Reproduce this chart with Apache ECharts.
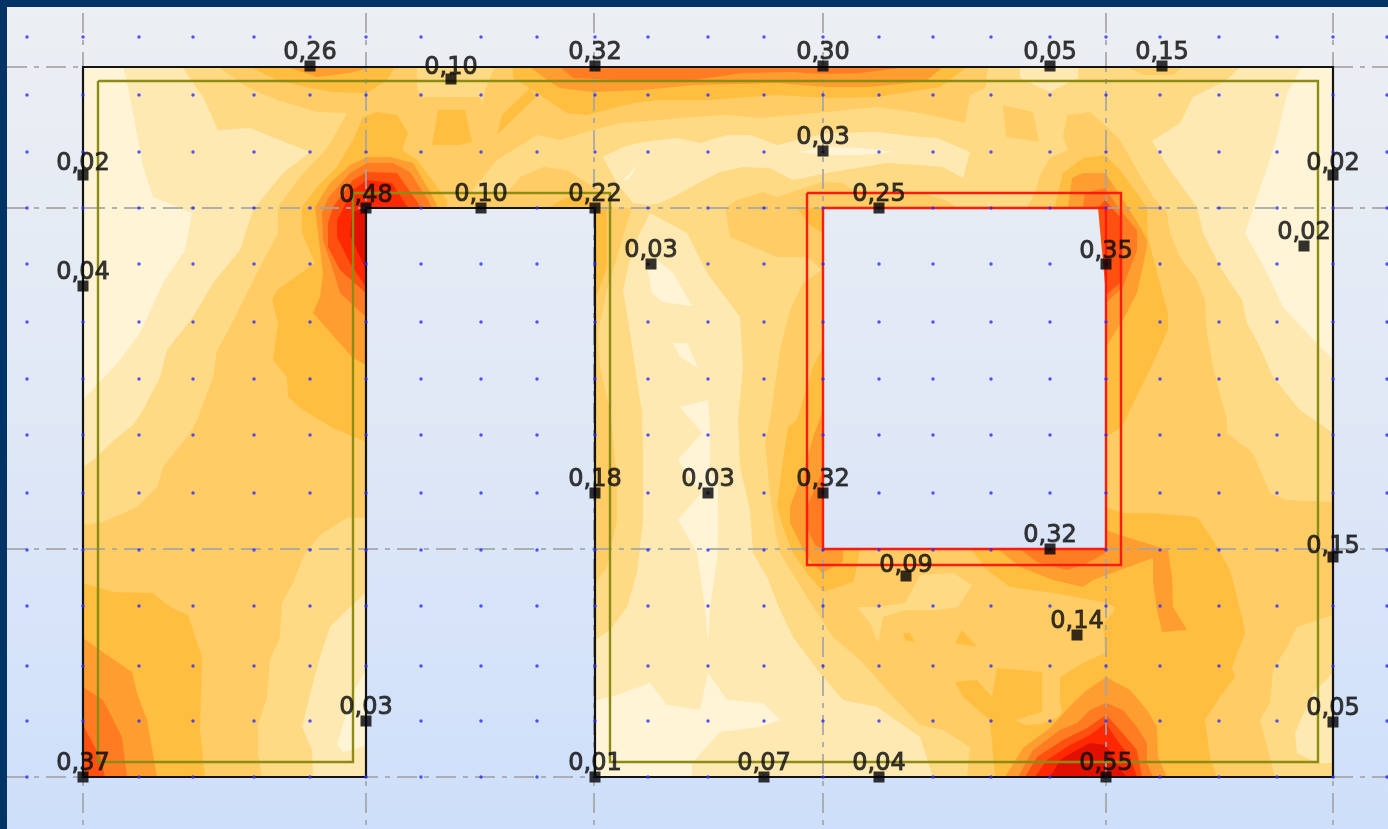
<!DOCTYPE html>
<html>
<head>
<meta charset="utf-8">
<style>html,body{margin:0;padding:0;background:#003366}#c{width:1388px;height:829px}#c canvas{filter:blur(0.45px)}</style>
<script src="https://cdn.jsdelivr.net/npm/echarts@6/dist/echarts.min.js"></script>
</head>
<body>
<div id="c"></div>
<script>
// Contour colours, lowest band first
const bandColors = ['#FFF5D6','#FFE9B3','#FFDA85','#FFCC66','#FFBE40','#FF9E30','#FF7C22','#FF5010','#FF2800','#E21000'];

// Wall shape (with the window cut in through a zero-width slit)
const wallShape = [[83,67],[823,67],[823,208],[823,549],[1106,549],[1106,208],[823,208],[823,67],[1333,67],[1333,777],[595,777],[595,208],[366,208],[366,777],[83,777]];

// Contour regions
const level3Regions = [
 [[83,67],[218,67],[247,87],[277,100],[317,112],[347,113],[328,147],[300,177],[278,207],[278,233],[260,267],[227,333],[217,350],[213,377],[197,420],[190,433],[163,467],[157,487],[137,507],[103,522],[83,525]],
 [[366,518],[347,518],[320,535],[305,553],[293,583],[282,603],[280,637],[270,660],[267,697],[258,725],[258,753],[262,777],[366,777]],
 [[537,135],[560,140],[593,130],[620,123],[660,120],[693,117],[727,115],[760,118],[827,112],[877,107],[920,113],[965,123],[970,95],[985,88],[988,67],[1333,67],[1333,502],[1286,500],[1270,493],[1253,453],[1227,433],[1227,420],[1213,367],[1207,333],[1205,300],[1197,280],[1180,257],[1170,233],[1167,213],[1153,197],[1133,163],[1120,140],[1107,127],[1090,112],[1067,115],[1063,137],[1068,150],[1050,158],[1040,175],[1035,193],[1027,207],[957,207],[945,200],[920,192],[853,190],[843,183],[823,182],[807,187],[777,197],[763,192],[737,200],[725,208],[730,237],[777,257],[807,257],[822,270],[803,283],[790,310],[780,350],[770,420],[765,443],[770,493],[775,530],[780,553],[807,597],[833,637],[860,660],[893,697],[920,725],[943,730],[970,747],[967,777],[595,777],[595,583],[607,567],[617,520],[617,477],[610,410],[600,367],[598,333],[607,290],[617,257],[630,213],[632,208],[613,207],[603,192],[587,183],[567,170],[543,167],[520,177],[505,195],[470,193],[497,160]],
 [[1333,615],[1297,627],[1287,647],[1273,670],[1270,703],[1260,720],[1275,777],[1333,777]],
 [[417,67],[495,67],[485,90],[482,105],[480,97],[450,97],[423,97],[417,90]]
];
const level2Regions = [
 [[83,67],[182,67],[203,97],[218,130],[250,128],[267,135],[310,152],[283,173],[253,210],[240,250],[213,283],[193,317],[167,350],[160,377],[143,410],[133,425],[113,441],[97,457],[83,467]],
 [[366,592],[347,610],[330,627],[320,657],[312,687],[302,727],[312,750],[313,777],[366,777]],
 [[650,213],[687,233],[707,273],[740,317],[743,367],[738,420],[740,467],[750,510],[753,553],[767,577],[780,610],[793,637],[820,673],[843,700],[877,707],[920,737],[933,777],[595,777],[595,640],[610,630],[627,607],[637,573],[643,520],[643,450],[642,410],[640,400],[630,333],[623,290],[633,247]],
 [[603,157],[623,147],[643,142],[677,138],[700,143],[727,135],[750,135],[777,145],[827,133],[877,132],[920,137],[937,138],[970,152],[963,178],[943,167],[920,165],[887,163],[827,173],[793,180],[770,168],[743,167],[720,172],[700,182],[677,195],[660,203],[647,205],[633,203],[617,183]],
 [[1020,67],[1020,78],[1050,92],[1078,78],[1078,67]],
 [[1240,67],[1227,80],[1193,97],[1180,123],[1152,141],[1170,170],[1197,207],[1203,233],[1220,267],[1242,300],[1247,323],[1260,347],[1273,377],[1300,410],[1333,433],[1333,67]],
 [[1333,673],[1313,693],[1295,733],[1297,753],[1317,763],[1333,763]]
];
const level1Regions = [
 [[83,67],[123,67],[128,87],[133,113],[143,167],[153,197],[192,213],[185,250],[163,283],[140,333],[120,360],[83,400]],
 [[366,670],[352,695],[337,745],[343,752],[353,750],[366,745]],
 [[597,700],[617,695],[650,683],[667,705],[700,710],[708,673],[727,700],[763,703],[780,720],[760,727],[720,732],[692,763],[692,777],[595,777],[595,700]],
 [[647,267],[652,293],[663,302],[692,306],[673,273],[657,260]],
 [[673,343],[687,343],[698,368],[680,357]],
 [[680,407],[708,400],[710,427],[710,467],[718,487],[718,537],[717,560],[710,607],[708,642],[705,607],[697,553],[678,520],[702,492],[693,482],[678,460],[702,433]],
 [[798,152],[827,147],[860,148],[895,152],[860,155],[827,155]],
 [[623,180],[638,165],[628,180]],
 [[1302,67],[1287,93],[1278,133],[1272,153],[1245,233],[1267,273],[1283,307],[1307,333],[1333,360],[1333,67]]
];
const level4Patches = [
 [[1003,105],[1033,112],[1039,142],[1006,137]],
 [[1127,67],[1143,75],[1173,75],[1183,67]]
];
const level3Islands = [
 [[857,607],[877,607],[905,603],[920,575],[953,573],[972,585],[958,607],[937,610],[905,610],[883,617],[878,643],[870,623]]
];
const level5Regions = [
 [[250,67],[277,80],[310,88],[333,92],[367,93],[387,80],[395,67]],
 [[513,67],[513,78],[537,93],[567,113],[587,115],[633,103],[660,100],[710,100],[777,95],[827,98],[877,97],[920,90],[940,87],[967,67]],
 [[363,117],[377,112],[397,115],[408,133],[402,150],[417,160],[447,200],[447,208],[366,208],[366,442],[333,428],[303,410],[288,397],[287,377],[273,360],[278,323],[272,300],[277,290],[315,263],[302,233],[302,207],[317,187],[337,167],[353,140]],
 [[83,583],[113,592],[153,593],[170,607],[188,615],[202,657],[200,730],[205,777],[83,777]],
 [[438,110],[465,110],[472,142],[460,145],[432,145]],
 [[530,88],[536,97],[497,135],[502,115]],
 [[548,208],[565,198],[583,195],[595,208]],
 [[595,208],[607,208],[607,267],[597,295],[595,295]],
 [[823,347],[813,367],[797,420],[788,427],[783,460],[777,507],[785,533],[793,553],[807,573],[823,592],[853,582],[857,567],[860,549],[823,549]],
 [[797,208],[810,225],[823,233],[823,208]],
 [[1055,207],[1058,193],[1063,173],[1083,158],[1105,155],[1120,170],[1147,207],[1148,237],[1157,273],[1168,313],[1168,330],[1153,363],[1130,410],[1122,427],[1106,437],[1106,208]],
 [[1106,507],[1123,513],[1153,513],[1197,517],[1213,540],[1230,570],[1242,617],[1245,633],[1232,667],[1235,677],[1220,697],[1205,720],[1210,757],[1217,777],[995,777],[990,720],[963,697],[955,682],[977,680],[992,697],[997,668],[1042,672],[1042,712],[1015,720],[1025,725],[1040,724],[1057,718],[1062,712],[1060,700],[1060,677],[1083,663],[1105,653],[1103,623],[1113,613],[1115,607],[1103,602],[1053,593],[1010,587],[987,570],[973,552],[973,549],[1106,549]],
 [[962,630],[955,643],[977,647]],
 [[903,633],[910,633],[915,642],[905,640]]
];
const level6Regions = [
 [[287,67],[317,77],[350,73],[372,67]],
 [[530,67],[550,82],[560,88],[593,92],[643,90],[693,85],[777,83],[827,87],[867,87],[920,82],[927,80],[943,67]],
 [[367,157],[390,157],[413,163],[433,197],[438,208],[366,208],[366,365],[353,358],[313,313],[320,297],[323,273],[318,233],[315,207],[330,183],[350,165]],
 [[83,638],[107,655],[132,672],[137,693],[147,720],[157,777],[83,777]],
 [[823,410],[813,437],[807,460],[790,507],[790,523],[807,557],[822,573],[843,562],[843,549],[823,549]],
 [[1068,207],[1072,178],[1083,173],[1105,173],[1120,195],[1140,227],[1147,240],[1147,247],[1137,293],[1123,320],[1106,347],[1106,208]],
 [[1106,530],[1120,535],[1168,550],[1172,577],[1173,607],[1187,630],[1162,632],[1157,610],[1153,583],[1153,558],[1120,570],[1093,580],[1083,587],[1053,580],[1020,567],[998,549],[1106,549]],
 [[1005,777],[1023,748],[1050,728],[1073,703],[1087,690],[1106,677],[1130,690],[1147,710],[1157,727],[1158,757],[1167,777]]
];
const level7Regions = [
 [[560,67],[573,78],[637,81],[693,80],[743,73],[793,72],[823,74],[860,73],[907,67]],
 [[367,163],[393,163],[410,172],[428,200],[432,208],[366,208],[366,317],[340,293],[333,270],[323,240],[322,213],[328,198],[350,173]],
 [[83,687],[103,700],[122,737],[127,777],[83,777]],
 [[823,470],[808,505],[808,530],[815,545],[823,549]],
 [[1083,207],[1085,193],[1105,188],[1120,210],[1137,230],[1137,250],[1123,287],[1106,303],[1106,208]],
 [[1020,549],[1037,562],[1067,570],[1083,565],[1097,558],[1106,552],[1106,549]],
 [[1018,777],[1033,750],[1060,730],[1077,723],[1090,710],[1106,703],[1123,710],[1137,727],[1147,743],[1147,763],[1153,777]]
];
const level8Regions = [
 [[367,172],[397,173],[418,203],[420,208],[366,208],[366,293],[340,270],[328,247],[328,223],[333,207],[353,180]],
 [[83,725],[100,757],[105,777],[83,777]],
 [[1098,208],[1105,200],[1120,217],[1122,247],[1120,283],[1106,295]],
 [[1025,777],[1037,757],[1063,740],[1087,728],[1106,715],[1120,730],[1137,750],[1142,777]]
];
const level9Regions = [
 [[367,180],[392,183],[408,208],[366,208],[366,287],[350,263],[337,237],[337,220],[353,190]],
 [[1035,777],[1047,760],[1070,745],[1090,735],[1106,723],[1117,740],[1130,757],[1137,777]]
];
const level10Regions = [
 [[366,208],[352,212],[350,235],[366,270]],
 [[1050,777],[1060,760],[1073,752],[1090,743],[1106,745],[1113,757],[1123,773],[1127,777]]
];

// Construction lines, grid dots
const axisLinesX = [83,366,594,823,1106,1333];
const axisLinesY = [67,208,549,777];
const dotsX = [27,83,139,193,254,310,366,421,481,537,595,648,708,764,823,879,933,991,1050,1106,1160,1219,1277,1333,1387];
const dotsY = [37,95,152,208,264,322,379,435,493,550,606,666,721,777];

// Outlines
const wallLines = [
 [[595,208],[366,208],[366,777],[83,777],[83,67],[1333,67],[1333,777],[595,777],[595,208]]
];
const oliveLine = [[98,81],[1318,81],[1318,762],[610,762],[610,193],[353,193],[353,762],[98,762],[98,81]];
const redLines = [
 [[823,208],[1106,208],[1106,549],[823,549],[823,208]],
 [[807,193],[1121,193],[1121,565],[807,565],[807,193]]
];

// Result points
const pointX = [310,451,595,823,1050,1162,823,83,1333,366,481,595,879,1304,651,1106,83,595,708,823,1050,1333,906,1077,366,1333,83,595,764,879,1106];
const pointY = [66,79,66,66,66,66,151,175,175,208,208,208,208,246,264,264,286,493,493,493,549,557,576,635,721,722,777,777,777,777,777];
const pointValues = [0.26,0.10,0.32,0.30,0.05,0.15,0.03,0.02,0.02,0.48,0.10,0.22,0.25,0.02,0.03,0.35,0.04,0.18,0.03,0.32,0.32,0.15,0.09,0.14,0.03,0.05,0.37,0.01,0.07,0.04,0.55];
// Labels that sit a little lower than the rest
const labelNudge = {1:2, 7:2, 8:2, 9:1, 15:1, 21:3, 22:3};

const paintOrder = [
 [3,[wallShape]],[2,level3Regions],[1,level2Regions],[0,level1Regions],[3,level4Patches],[2,level3Islands],
 [4,level5Regions],[5,level6Regions],[6,level7Regions],[7,level8Regions],[8,level9Regions],[9,level10Regions]
];
const regions = [];
paintOrder.forEach(([lvl,list]) => list.forEach(pts => regions.push({lvl,pts})));

const dots = [];
dotsX.forEach(x => dotsY.forEach(y => dots.push([x,y])));

const gridSegs = [];
axisLinesX.forEach(x => gridSegs.push([[x,13],[x,829]]));
axisLinesY.forEach(y => gridSegs.push([[7,y],[1388,y]]));

function polylineSeries(name, lines, color, width, dash, z) {
  return {
    type:'custom', name, coordinateSystem:'cartesian2d', clip:false, silent:true, z,
    data: lines.map((l,i)=>[i,i]),
    renderItem(params, api){
      const pts = lines[params.dataIndex].map(p=>api.coord(p));
      return {type:'polyline', shape:{points:pts}, style:{fill:'none', stroke:color, lineWidth:width, lineDash:dash||null, lineJoin:'miter'}};
    }
  };
}

const chart = echarts.init(document.getElementById('c'), null, {renderer:'canvas'});
chart.setOption({
  animation:false,
  backgroundColor:'#003366',
  graphic:[{type:'rect', z:-10, shape:{x:7,y:7,width:1381,height:822},
    style:{fill:new echarts.graphic.LinearGradient(0,0,0,1,[{offset:0,color:'#ECEFF3'},{offset:0.5,color:'#E0E8F6'},{offset:1,color:'#CEDFFB'}])}}],
  grid:{left:0,right:0,top:0,bottom:0,containLabel:false},
  xAxis:{type:'value',min:0,max:1388,show:false},
  yAxis:{type:'value',min:0,max:829,inverse:true,show:false},
  series:[
    {
      type:'custom', name:'contours', coordinateSystem:'cartesian2d', clip:false, silent:true, z:2,
      data:regions.map((r,i)=>[i,i]),
      renderItem(params, api){
        const r = regions[params.dataIndex];
        return {type:'polygon', shape:{points:r.pts.map(p=>api.coord(p))}, style:{fill:bandColors[r.lvl]}};
      }
    },
    polylineSeries('axes', gridSegs, 'rgba(165,165,165,0.85)', 2, [20,7,5,7], 3),
    polylineSeries('olive', [oliveLine], '#8C8C14', 2.4, null, 4),
    polylineSeries('wall', wallLines, '#141414', 2.2, null, 5),
    polylineSeries('red', redLines, '#FF1A10', 2.4, null, 6),
    {type:'scatter', name:'dots', data:dots, symbol:'circle', symbolSize:3.5, itemStyle:{color:'#2A2AFF'}, silent:true, z:7, clip:false},
    {type:'scatter', name:'points', symbol:'rect', symbolSize:11, itemStyle:{color:'#000'}, silent:true, z:8, clip:false,
      data:pointX.map((x,i)=>({
        value:[x,pointY[i],pointValues[i]],
        label:{offset:[0,labelNudge[i]||0]}
      })),
      label:{show:true, position:'top', distance:-4, color:'#0c0c0c', fontFamily:'DejaVu Sans', fontSize:24,
        textBorderColor:'rgba(15,15,15,0.85)', textBorderWidth:1,
        formatter:p=>p.value[2].toFixed(2).replace('.',',')}
    }
  ]
});
</script>
</body>
</html>
